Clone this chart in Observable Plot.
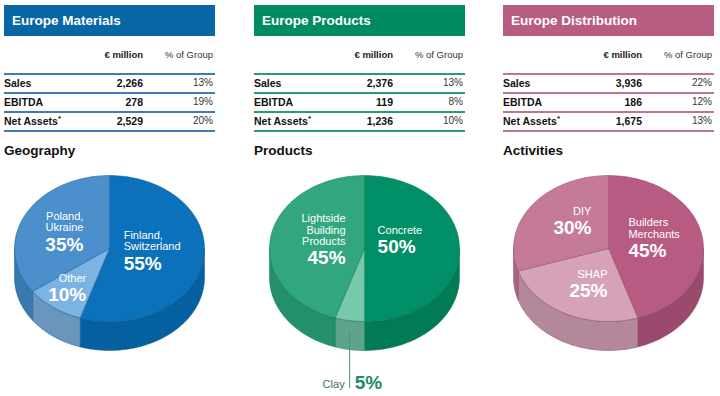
<!DOCTYPE html>
<html><head><meta charset="utf-8">
<script src="https://cdn.jsdelivr.net/npm/d3@7"></script>
<script src="https://cdn.jsdelivr.net/npm/@observablehq/plot@0.6"></script>
<style>
body{margin:0;background:#fff;font-family:"Liberation Sans",Arial,Helvetica,sans-serif;}
#root{position:relative;width:720px;height:396px;overflow:hidden;background:#fff;}
.abs{position:absolute;white-space:nowrap;}
.head{color:#fff;font-weight:bold;font-size:13.5px;line-height:31px;padding-left:8px;box-sizing:border-box;height:31px;top:5px;}
.t{height:16px;line-height:16px;}
.r{text-align:right;}
.sec{font-weight:bold;font-size:13.5px;color:#111;height:18px;line-height:18px;}
svg{overflow:visible;}
</style></head>
<body><div id="root"></div>
<script>
// ---- data ----
const panelTitles = ["Europe Materials", "Europe Products", "Europe Distribution"];
const columnHeads = ["€ million", "% of Group"];
const metricNames = ["Sales", "EBITDA", "Net Assets"];
const materialsMillion = [2266, 278, 2529];
const materialsPct = [13, 19, 20];
const productsMillion = [2376, 119, 1236];
const productsPct = [13, 8, 10];
const distributionMillion = [3936, 186, 1675];
const distributionPct = [22, 12, 13];
const sectionTitles = ["Geography", "Products", "Activities"];
const geoSegments = ["Finland,\nSwitzerland", "Other", "Poland,\nUkraine"];
const geoShares = [55, 10, 35];
const productSegments = ["Concrete", "Clay", "Lightside\nBuilding\nProducts"];
const productShares = [50, 5, 45];
const activitySegments = ["Builders\nMerchants", "SHAP", "DIY"];
const activityShares = [45, 25, 30];

// ---- layout / style ----
const panels = [
  {left: 4, millions: materialsMillion, pcts: materialsPct, segs: geoSegments, shares: geoShares,
   head: "#0866a6", rule: "#3b7cb9", stroke: "#0d5a92",
   tops: ["#0a71ba", "#7db3e2", "#4b8fcd"], sides: ["#05609f", "#6a95bd", "#3a78b0"],
   cx: 105, labels: [{t: 95, r: 0.15, anchor: "start"}, {t: 205, r: 0.58, anchor: "end"}, {t: 312, r: 0.37, anchor: "end"}]},
  {left: 254, millions: productsMillion, pcts: productsPct, segs: productSegments, shares: productShares,
   head: "#008b63", rule: "#2e9a72", stroke: "#0a7552",
   tops: ["#008f66", "#76c9ab", "#31a67f"], sides: ["#007b55", "#5fa38d", "#23906a"],
   cx: 110, labels: [{t: 46.5, r: 0.19, anchor: "start"}, {outside: true}, {t: 304.4, r: 0.242, anchor: "end"}],
   outColor: "#1b8b63", outLine: "#3a9a78", outName: "#3d6b63"},
  {left: 503, millions: distributionMillion, pcts: distributionPct, segs: activitySegments, shares: activityShares,
   head: "#b95c82", rule: "#c07393", stroke: "#8e4466",
   tops: ["#b85b83", "#d6a2b8", "#c67a99"], sides: ["#9b4a6d", "#b3889a", "#ab6482"],
   cx: 105, labels: [{t: 53, r: 0.263, anchor: "start"}, {t: 181.3, r: 0.473, anchor: "end"}, {t: 335.7, r: 0.436, anchor: "end"}]}
];
const W = 211, FONT = '"Liberation Sans", Arial, Helvetica, sans-serif';
const root = document.getElementById("root");
const fmt = d3.format(",");

function div(cls, left, top, width, html, style = "") {
  const e = document.createElement("div");
  e.className = "abs " + cls;
  e.style.cssText = `left:${left}px;top:${top}px;${width != null ? `width:${width}px;` : ""}${style}`;
  e.innerHTML = html;
  root.appendChild(e);
  return e;
}

panels.forEach((p, i) => {
  const L = p.left;
  div("head", L, 5, W, panelTitles[i], `background:${p.head};`);
  div("t r", L, 47, 139, columnHeads[0], "font-size:9.5px;font-weight:bold;color:#222;");
  div("t r", L + 139, 47, 70, columnHeads[1], "font-size:9.5px;color:#333;");
  [73, 92, 111, 130].forEach(y => div("", L, y, W, "", `height:1.5px;background:${p.rule};`));
  metricNames.forEach((m, j) => {
    const cy = 83 + j * 19 - 8;
    const label = j === 2 ? `${m}<span style="font-size:8px;position:relative;top:-4px;">*</span>` : m;
    div("t", L, cy, 100, label, "font-size:10.5px;font-weight:bold;color:#111;");
    div("t r", L, cy, 139, fmt(p.millions[j]), "font-size:10.5px;font-weight:bold;color:#111;");
    div("t r", L + 139, cy, 70, p.pcts[j] + "%", "font-size:10px;color:#333;");
  });
  div("sec", L, 142, W, sectionTitles[i]);

  // ---- 3D pie ----
  const rx = 95, ry = 73, depth = 29, d = depth / ry;
  const top0 = 160, cy = 248 - top0, H = 236, Wp = 215;
  const total = d3.sum(p.shares);
  const cum = d3.cumsum(p.shares);
  const slices = p.shares.map((v, k) => ({a: (cum[k] - v) / total * 360, b: cum[k] / total * 360, v, k}));
  const rad = t => t * Math.PI / 180;
  const arc = (a, b, off = 0) => {
    const n = Math.max(2, Math.ceil(Math.abs(b - a) / 2));
    return d3.range(n + 1).map(s => {
      const t = rad(a + (b - a) * s / n);
      return {x: Math.sin(t), y: Math.cos(t) - off};
    });
  };
  const marks = [];
  slices.forEach(s => {
    const a = Math.max(s.a, 90), b = Math.min(s.b, 270);
    if (b > a) {
      const pts = [...arc(a, b), ...arc(b, a, d)];
      pts.push(pts[0]);
      marks.push(Plot.line(pts, {x: "x", y: "y", fill: p.sides[s.k], stroke: p.stroke, strokeWidth: 0.6, strokeOpacity: 0.8}));
    }
  });
  slices.forEach(s => {
    const pts = [{x: 0, y: 0}, ...arc(s.a, s.b), {x: 0, y: 0}];
    marks.push(Plot.line(pts, {x: "x", y: "y", fill: p.tops[s.k], stroke: p.stroke, strokeWidth: 0.6, strokeOpacity: 0.8}));
  });
  // labels
  slices.forEach(s => {
    const lab = p.labels[s.k];
    const lines = p.segs[s.k].split("\n");
    if (lab.outside) {
      const t = rad((s.a + s.b) / 2);
      const x = Math.sin(t);
      const yTop = Math.cos(t) - 0.42 * d;
      const base = -1 - d;
      marks.push(Plot.ruleX([{x, y1: yTop, y2: base - 38 / ry}], {x: "x", y1: "y1", y2: "y2", stroke: p.outLine, strokeWidth: 1}));
      marks.push(Plot.text([{x, y: base - 34 / ry, s: lines.join(" ")}], {x: "x", y: "y", text: "s", dx: -5, textAnchor: "end", fontSize: 11, fill: p.outName, fontFamily: FONT}));
      marks.push(Plot.text([{x, y: base - 32 / ry, s: s.v + "%"}], {x: "x", y: "y", text: "s", dx: 5, textAnchor: "start", fontSize: 19, fontWeight: "bold", fill: p.outColor, fontFamily: FONT}));
      return;
    }
    const ax = lab.r * Math.sin(rad(lab.t)), ay = lab.r * Math.cos(rad(lab.t));
    const Hb = (lines.length - 1) * 11.5 + 16.5;
    const rows = lines.map((l, li) => ({x: ax, y: ay - (-Hb / 2 + li * 11.5) / ry, s: l}));
    marks.push(Plot.text(rows, {x: "x", y: "y", text: "s", textAnchor: lab.anchor, fontSize: 11, fill: "white", fontFamily: FONT}));
    marks.push(Plot.text([{x: ax, y: ay - (Hb / 2) / ry, s: s.v + "%"}], {x: "x", y: "y", text: "s", textAnchor: lab.anchor, fontSize: 19, fontWeight: "bold", fill: "white", fontFamily: FONT}));
  });
  const chart = Plot.plot({
    width: Wp, height: H, margin: 0,
    x: {domain: [-1, 1], range: [p.cx - rx, p.cx + rx], axis: null},
    y: {domain: [-1, 1], range: [cy + ry, cy - ry], axis: null},
    style: {background: "transparent", fontFamily: FONT, overflow: "visible"},
    marks
  });
  chart.style.position = "absolute";
  chart.style.left = L + "px";
  chart.style.top = top0 + "px";
  root.appendChild(chart);
});
</script>
</body></html>
